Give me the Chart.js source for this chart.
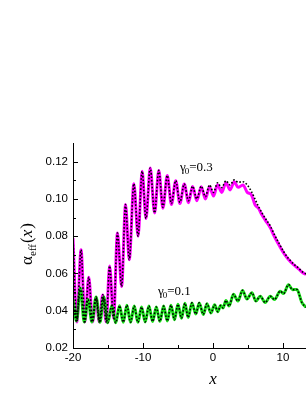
<!DOCTYPE html>
<html><head><meta charset="utf-8">
<script src="https://cdn.jsdelivr.net/npm/chart.js@4.4.0/dist/chart.umd.min.js"></script>
<style>html,body{margin:0;padding:0;background:#fff;overflow:hidden}canvas{display:block}</style>
</head><body>
<canvas id="c" width="306" height="396"></canvas>
<script>
// gamma0 = 0.3 (magenta, with black dotted reference curve)
const xMag = [-20,-19.45,-18.85,-18.3,-17.75,-17.2,-16.7,-16.25,-15.75,-15.25,-14.77,-14.2,-13.65,-13.05,-12.49,-11.96,-11.3,-10.7,-10.12,-9.57,-8.96,-8.34,-7.74,-7.15,-6.53,-5.93,-5.32,-4.72,-4.1,-3.5,-2.91,-2.3,-1.67,-1.08,-0.49,0.08,0.66,1.25,1.86,2.45,3.04,3.6,4.3,4.9,5.5,6.0,6.5,7.0,7.5,8.2,8.7,9.4,10.1,10.8,11.5,12.2,12.8,13.3];
const yMag = [0.079,0.034,0.0727,0.034,0.058,0.034,0.047,0.034,0.0485,0.034,0.064,0.036,0.0817,0.053,0.097,0.0674,0.1082,0.080,0.1148,0.0895,0.1166,0.0925,0.1153,0.0950,0.1125,0.0970,0.1098,0.0975,0.1080,0.0980,0.1066,0.0990,0.1065,0.1000,0.1065,0.1015,0.1076,0.1035,0.1087,0.1048,0.1092,0.1062,0.1075,0.1035,0.1022,0.0970,0.0950,0.0915,0.0885,0.0845,0.0805,0.0755,0.0710,0.0675,0.0648,0.0626,0.0605,0.0595];
const yMagDot = [0.079,0.034,0.0727,0.034,0.058,0.034,0.047,0.034,0.0485,0.034,0.064,0.036,0.0817,0.053,0.097,0.0674,0.1082,0.080,0.1148,0.0895,0.1166,0.0925,0.1153,0.0955,0.1125,0.0975,0.1098,0.0982,0.1080,0.0990,0.1068,0.1000,0.1068,0.1012,0.1075,0.1035,0.1086,0.1060,0.1097,0.1075,0.1102,0.1090,0.1092,0.1075,0.1040,0.1000,0.0960,0.0925,0.0895,0.0855,0.0815,0.0765,0.0718,0.0680,0.0652,0.0630,0.0608,0.0597];
// gamma0 = 0.1 (green, with black dotted reference curve)
const xGrn = [-20,-19.5,-18.95,-18.4,-17.85,-17.3,-16.7,-16.15,-15.6,-15.05,-14.45,-13.9,-13.35,-12.82,-12.3,-11.78,-11.25,-10.72,-10.2,-9.68,-9.15,-8.62,-8.1,-7.58,-7.05,-6.52,-6.0,-5.5,-5.0,-4.5,-4.0,-3.55,-3.0,-2.45,-1.96,-1.38,-0.86,-0.28,0.23,0.7,1.1,1.45,1.86,2.3,2.94,3.57,4.23,4.86,5.57,6.14,6.76,7.47,8.19,8.8,9.61,10.1,10.8,11.37,12.0,12.7,13.3];
const yGrn = [0.046,0.0345,0.0522,0.034,0.046,0.034,0.0474,0.0338,0.0474,0.0335,0.0427,0.0335,0.0427,0.0338,0.0430,0.0338,0.0425,0.0338,0.0420,0.0340,0.0425,0.0342,0.0420,0.0343,0.0425,0.0345,0.0430,0.0352,0.0435,0.0360,0.0440,0.0364,0.0442,0.0382,0.0442,0.0380,0.0438,0.0388,0.0432,0.0395,0.0428,0.0415,0.0455,0.0425,0.0488,0.0452,0.0509,0.0463,0.0497,0.0452,0.0478,0.0444,0.0478,0.0460,0.0505,0.0492,0.0540,0.0513,0.0514,0.0445,0.0418];
const yTicks = [0.02,0.04,0.06,0.08,0.10,0.12];
const yMinor = [0.03,0.05,0.07,0.09,0.11];
const xTicks = [-20,-10,0,10];
const xMinor = [-15,-5,5];

const pts = (xs, ys) => xs.map((x, i) => ({x: x, y: ys[i]}));
const lineBase = {pointRadius: 0, cubicInterpolationMode: 'monotone', fill: false};

const decor = {
  id: 'decor',
  afterDraw(chart) {
    const ctx = chart.ctx, a = chart.chartArea;
    const xs = chart.scales.x, ys = chart.scales.y;
    ctx.save();
    ctx.strokeStyle = '#000'; ctx.lineWidth = 1;
    ctx.beginPath();
    ctx.moveTo(a.left + 0.5, a.top); ctx.lineTo(a.left + 0.5, a.bottom + 0.5); ctx.lineTo(a.right, a.bottom + 0.5);
    ctx.stroke();
    ctx.beginPath();
    yTicks.forEach(v => { const p = Math.round(ys.getPixelForValue(v)) + 0.5; ctx.moveTo(a.left, p); ctx.lineTo(a.left + 5, p); });
    yMinor.forEach(v => { const p = Math.round(ys.getPixelForValue(v)) + 0.5; ctx.moveTo(a.left, p); ctx.lineTo(a.left + 3, p); });
    xTicks.forEach(v => { const p = Math.round(xs.getPixelForValue(v)) + 0.5; ctx.moveTo(p, a.bottom); ctx.lineTo(p, a.bottom - 5); });
    xMinor.forEach(v => { const p = Math.round(xs.getPixelForValue(v)) + 0.5; ctx.moveTo(p, a.bottom); ctx.lineTo(p, a.bottom - 3); });
    ctx.stroke();
    ctx.fillStyle = '#000';
    // x axis title
    ctx.font = 'italic 17px "Liberation Serif", "Times New Roman", serif';
    ctx.textAlign = 'center'; ctx.textBaseline = 'alphabetic';
    ctx.fillText('x', xs.getPixelForValue(0), 384);
    // y axis title
    ctx.save();
    ctx.translate(32, 244); ctx.rotate(-Math.PI / 2);
    ctx.textAlign = 'left';
    const big = '17px "Liberation Serif", serif', ibig = 'italic 17px "Liberation Serif", serif', small = '11px "Liberation Serif", serif';
    ctx.font = big; const wA = ctx.measureText('\u03b1').width;
    ctx.font = small; const wE = ctx.measureText('eff').width;
    ctx.font = big; const wP = ctx.measureText('(').width, wQ = ctx.measureText(')').width;
    ctx.font = ibig; const wX = ctx.measureText('x').width;
    let cx = -(wA + wE + wP + wX + wQ + 2) / 2;
    ctx.font = big; ctx.fillText('\u03b1', cx, 0); cx += wA;
    ctx.font = small; ctx.fillText('eff', cx, 4); cx += wE + 1;
    ctx.font = big; ctx.fillText('(', cx, 0); cx += wP;
    ctx.font = ibig; ctx.fillText('x', cx, 0); cx += wX + 1;
    ctx.font = big; ctx.fillText(')', cx, 0);
    ctx.restore();
    // annotations
    const label = (x, y, val) => {
      ctx.textAlign = 'left';
      ctx.font = '13px "Liberation Serif", serif';
      ctx.fillText('\u03b3', x, y);
      const wg = ctx.measureText('\u03b3').width;
      ctx.font = '9px "Liberation Serif", serif';
      ctx.fillText('0', x + wg - 1, y + 3);
      const w0 = ctx.measureText('0').width;
      ctx.font = '13px "Liberation Serif", serif';
      ctx.fillText('=' + val, x + wg + w0 - 1, y);
    };
    label(180, 171, '0.3');
    label(158, 295, '0.1');
    ctx.restore();
  }
};

// Chart.js draws the first dataset on top, so dotted overlays come first
new Chart(document.getElementById('c'), {
  type: 'line',
  data: {
    datasets: [
      Object.assign({data: pts(xMag, yMagDot), borderColor: '#000', borderWidth: 1.6, borderDash: [1.6, 1.8]}, lineBase),
      Object.assign({data: pts(xGrn, yGrn), borderColor: '#000', borderWidth: 1.6, borderDash: [1.6, 1.8]}, lineBase),
      Object.assign({data: pts(xGrn, yGrn), borderColor: '#19e019', borderWidth: 3}, lineBase),
      Object.assign({data: pts(xMag, yMag), borderColor: '#ff00ff', borderWidth: 3}, lineBase)
    ]
  },
  options: {
    responsive: false, animation: false, devicePixelRatio: 1,
    layout: {padding: {top: 143, right: 0, left: 0, bottom: 0}},
    plugins: {legend: {display: false}, tooltip: {enabled: false}},
    scales: {
      x: {
        type: 'linear', min: -20, max: 13.3,
        grid: {display: false, drawTicks: false}, border: {display: false},
        afterBuildTicks: s => { s.ticks = xTicks.map(v => ({value: v})); },
        afterFit: s => { s.height = 48; },
        ticks: {padding: 3, color: '#000', maxRotation: 0, autoSkip: false,
          font: {family: '"Liberation Sans", Arial, sans-serif', size: 11.5},
          callback: v => String(v)}
      },
      y: {
        type: 'linear', min: 0.02, max: 0.13,
        grid: {display: false, drawTicks: false}, border: {display: false},
        afterBuildTicks: s => { s.ticks = yTicks.map(v => ({value: v})); },
        afterFit: s => { s.width = 73; },
        ticks: {padding: 5, color: '#000', autoSkip: false,
          font: {family: '"Liberation Sans", Arial, sans-serif', size: 11.5},
          callback: v => Number(v).toFixed(2)}
      }
    }
  },
  plugins: [decor]
});
</script>
</body></html>
